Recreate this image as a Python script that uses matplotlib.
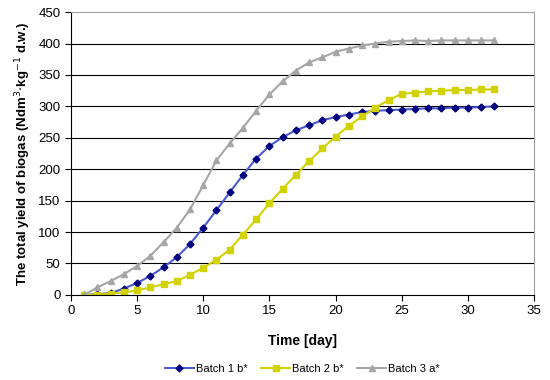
import matplotlib
matplotlib.use("Agg")
import matplotlib.pyplot as plt

plt.rcParams["font.family"] = ["Liberation Sans", "DejaVu Sans"]

days = list(range(1, 33))
batch1 = [0, 1, 3, 10, 19, 30, 44, 60, 81, 107, 135, 163, 191, 217, 237, 251,
          262, 270, 278, 283, 287, 291, 293, 294, 295, 296, 297, 297, 298, 298, 299, 300]
batch2 = [0, 0.5, 2, 4, 7, 12, 17, 22, 32, 43, 56, 72, 96, 120, 146, 169,
          191, 213, 233, 252, 269, 284, 298, 310, 320, 322, 324, 325, 326, 326, 327, 327]
batch3 = [0, 12, 22, 33, 46, 62, 84, 107, 136, 175, 214, 241, 266, 293, 319, 340,
          357, 370, 378, 387, 392, 397, 400, 403, 404, 405, 404, 405, 405, 405, 405, 405]
labels = ["Batch 1 b*", "Batch 2 b*", "Batch 3 a*"]

fig = plt.figure(figsize=(5.5, 3.8), dpi=100)
ax = fig.add_axes([0.129, 0.224, 0.842, 0.744])

ax.plot(days, batch1, color="#4a5ad0", lw=1.5, marker="D", ms=3.5,
        mfc="#000080", mec="#000080", label=labels[0])
ax.plot(days, batch2, color="#d2d200", lw=1.5, marker="s", ms=4.5,
        mfc="#d2d200", mec="#d2d200", label=labels[1])
ax.plot(days, batch3, color="#a6a6a6", lw=1.5, marker="^", ms=5,
        mfc="#a6a6a6", mec="#a6a6a6", label=labels[2])

ax.set_xlim(0, 35); ax.set_ylim(0, 450)
ax.set_xticks(range(0, 36, 5)); ax.set_yticks(range(0, 451, 50))
for yv in range(50, 450, 50):
    ax.axhline(yv, color="black", lw=0.8, zorder=0)
ax.spines["top"].set_color("#a0a0a0"); ax.spines["right"].set_color("#a0a0a0")
ax.spines["left"].set_color("black"); ax.spines["bottom"].set_color("black")
ax.tick_params(direction="out", length=4, labelsize=9.5, width=0.8)
ax.set_xlabel("Time [day]", fontweight="bold", fontsize=10, labelpad=12)
ax.set_ylabel("The total yield of biogas (Ndm$^3$$\\cdot$kg$^{-1}$ d.w.)",
              fontweight="bold", fontsize=9.5, labelpad=4)
ax.legend(loc="center", bbox_to_anchor=(0.5, -0.262), ncol=3, frameon=False,
          fontsize=8, handlelength=2.6, columnspacing=1.2, handletextpad=0.2)

fig.savefig("out.png", dpi=100)
